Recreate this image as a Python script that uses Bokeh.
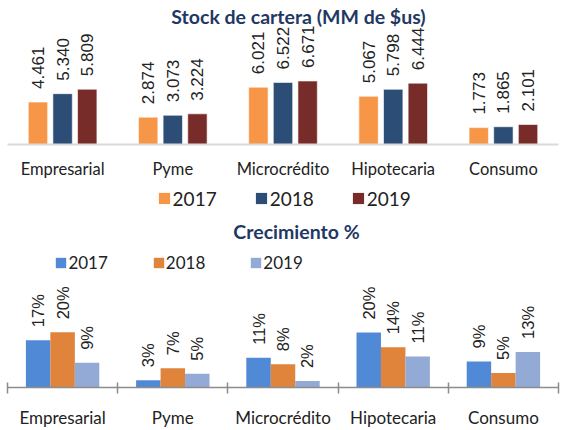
from math import pi
from bokeh.plotting import figure
from bokeh.models import (FactorRange, Range1d, Legend, LegendItem, Label,
                          LinearAxis, FixedTicker, ColumnDataSource)
from bokeh.transform import dodge
from bokeh.layouts import column
from bokeh.core.properties import value
from bokeh.embed import file_html
from bokeh.resources import INLINE

# ---------------- data ----------------
categories = ["Empresarial", "Pyme", "Microcrédito", "Hipotecaria", "Consumo"]
years = ["2017", "2018", "2019"]
stock_2017 = [4461, 2874, 6021, 5067, 1773]
stock_2018 = [5340, 3073, 6522, 5798, 1865]
stock_2019 = [5809, 3224, 6671, 6444, 2101]
growth_2017 = [16.9, 2.6, 10.6, 19.6, 9.3]
growth_2018 = [19.7, 6.9, 8.3, 14.4, 5.2]
growth_2019 = [8.8, 4.9, 2.3, 11.1, 12.7]
stock_title = "Stock de cartera (MM de $us)"
growth_title = "Crecimiento %"

stock_colors = ["#F79646", "#2C4D75", "#772C2A"]
growth_colors = ["#5089D5", "#E0843C", "#93A9D6"]
TITLE_COLOR = "#1F3864"
TEXT_COLOR = "#222222"

W = 561

def fmt_stock(v):
    return f"{v:,}".replace(",", ".")

def fmt_pct(v):
    return f"{round(v):d}%"

stock = {"2017": stock_2017, "2018": stock_2018, "2019": stock_2019}
growth = {"2017": growth_2017, "2018": growth_2018, "2019": growth_2019}

# ---------------- top chart ----------------
src1 = ColumnDataSource(dict(
    cat=categories,
    **{"v" + y: stock[y] for y in years},
    **{"l" + y: [fmt_stock(v) for v in stock[y]] for y in years},
))
TOP_H = 185
TOP_FRAME_H = 144
p1 = figure(width=W, height=TOP_H, title=None,
            x_range=FactorRange(*categories, range_padding=0),
            y_range=Range1d(0, TOP_FRAME_H / 0.00952),
            y_axis_location=None, output_backend="svg", toolbar_location=None,
            min_border_left=5, min_border_right=3, min_border_top=0,
            min_border_bottom=TOP_H - TOP_FRAME_H)
p1.grid.visible = False
p1.outline_line_color = None
ax1 = p1.xaxis[0]
ax1.axis_line_color = "#D9D9D9"
ax1.axis_line_width = 2
ax1.major_tick_line_color = None
ax1.minor_tick_line_color = None
ax1.major_label_text_font = "Lato"
ax1.major_label_text_font_size = "16.5px"
ax1.major_label_text_color = TEXT_COLOR
ax1.major_label_standoff = 8

for yr, off, col in zip(years, [-0.2235, 0.0, 0.2235], stock_colors):
    xd = dodge("cat", off, range=p1.x_range)
    p1.vbar(x=xd, top="v" + yr, width=0.176, source=src1,
            fill_color=col, line_color="white", line_alpha=0.6, line_width=1)
    p1.text(x=xd, y="v" + yr, text="l" + yr, source=src1, angle=pi / 2,
            text_align="left", text_baseline="middle", y_offset=-13,
            text_font=value("Liberation Sans"), text_font_size="17px",
            text_color=TEXT_COLOR)

p1.add_layout(Label(x=291, y=127.7, x_units="screen", y_units="screen",
                    text=stock_title, text_align="center", text_baseline="alphabetic",
                    text_font="Lato", text_font_style="bold", text_font_size="19.5px",
                    text_color=TITLE_COLOR))

# ---------------- bottom chart ----------------
src2 = ColumnDataSource(dict(
    cat=categories,
    **{"v" + y: growth[y] for y in years},
    **{"l" + y: [fmt_pct(v) for v in growth[y]] for y in years},
))
BOT_H = 245
BOT_FRAME_H = 202
p2 = figure(width=W, height=BOT_H, title=None,
            x_range=FactorRange(*categories, range_padding=0),
            y_range=Range1d(0, BOT_FRAME_H / 2.8),
            x_axis_location=None, y_axis_location=None,
            output_backend="svg", toolbar_location=None,
            min_border_left=7, min_border_right=0, min_border_top=0,
            min_border_bottom=BOT_H - BOT_FRAME_H)
p2.grid.visible = False
p2.outline_line_color = None

centers = [i + 0.5 for i in range(len(categories))]
bounds = list(range(len(categories) + 1))
x_axis2 = LinearAxis(ticker=FixedTicker(ticks=centers, minor_ticks=bounds),
                     major_label_overrides={c: name for c, name in zip(centers, categories)},
                     axis_line_color="#8C8C8C", axis_line_width=1.5,
                     major_tick_line_color=None, major_tick_in=0, major_tick_out=0,
                     minor_tick_line_color="#8C8C8C", minor_tick_line_width=1.5,
                     minor_tick_in=5, minor_tick_out=6,
                     major_label_text_font="Lato", major_label_text_font_size="17px",
                     major_label_text_color=TEXT_COLOR, major_label_standoff=13)
p2.add_layout(x_axis2, "below")

items2 = []
for yr, off, col in zip(years, [-0.222, 0.0, 0.222], growth_colors):
    xd = dodge("cat", off, range=p2.x_range)
    r = p2.vbar(x=xd, top="v" + yr, width=0.222, source=src2,
                fill_color=col, line_color=None)
    p2.text(x=xd, y="v" + yr, text="l" + yr, source=src2, angle=pi / 2,
            text_align="left", text_baseline="middle", y_offset=-13,
            text_font=value("Liberation Sans"), text_font_size="16.5px",
            text_color=TEXT_COLOR)
    items2.append(LegendItem(label=yr, renderers=[r]))

# legend swatches of the top chart (drawn in the lower canvas, just under the top axis)
items1 = []
for yr, col in zip(years, stock_colors):
    r = p2.vbar(x=[categories[0]], top=[0], bottom=[0], width=0.176,
                fill_color=col, line_color=None)
    items1.append(LegendItem(label=yr, renderers=[r]))

leg1 = Legend(items=items1, orientation="horizontal", location=(149.6, 177.2),
              padding=0, margin=0, spacing=37, glyph_width=14, glyph_height=14,
              label_height=14, label_standoff=2, label_text_font="Lato",
              label_text_font_size="19px", label_text_baseline="alphabetic",
              label_text_color=TEXT_COLOR,
              border_line_color=None, background_fill_alpha=0)
p2.add_layout(leg1)

leg2 = Legend(items=items2, orientation="horizontal", location=(47.4, 114.3),
              padding=0, margin=0, spacing=44, glyph_width=13, glyph_height=13,
              label_height=13, label_standoff=1, label_text_font="Lato",
              label_text_font_size="17px", label_text_baseline="alphabetic",
              label_text_color=TEXT_COLOR,
              border_line_color=None, background_fill_alpha=0)
p2.add_layout(leg2)
p2.add_layout(Label(x=289, y=156, x_units="screen", y_units="screen",
                    text=growth_title, text_align="center", text_baseline="alphabetic",
                    text_font="Lato", text_font_style="bold", text_font_size="19.5px",
                    text_color=TITLE_COLOR))

layout = column(p1, p2, spacing=0)
open("out.html", "w").write(file_html(layout, INLINE))
